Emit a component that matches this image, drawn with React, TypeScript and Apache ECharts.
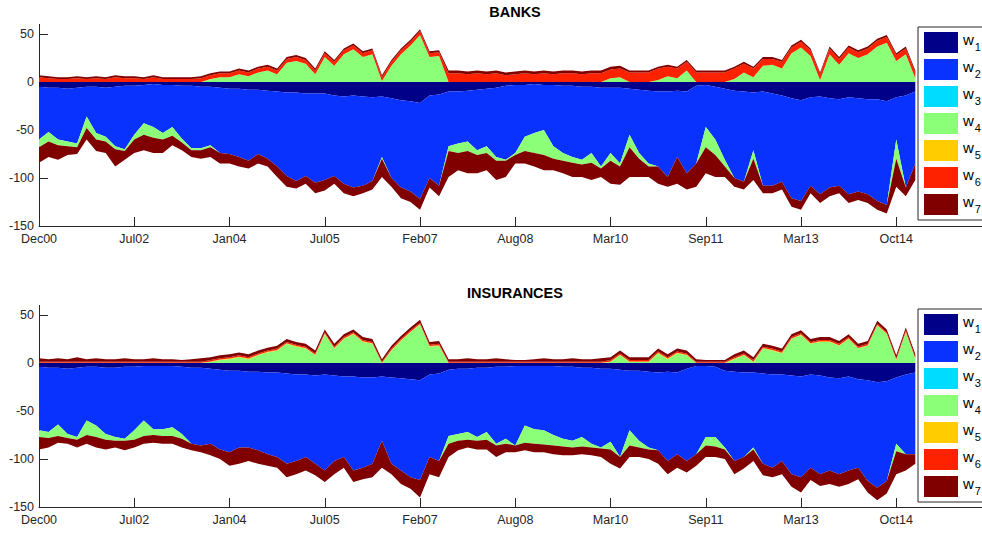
import React, { useEffect, useRef } from "react";
import * as echarts from "echarts";

// ---------- axis labels ----------
const tickLabels = ["Dec00", "Jul02", "Jan04", "Jul05", "Feb07", "Aug08", "Mar10", "Sep11", "Mar13", "Oct14"];
const seriesNames = ["w1", "w2", "w3", "w4", "w5", "w6", "w7"];
const palette = ["#000088", "#0a32ff", "#00dcff", "#8cff78", "#ffcc00", "#ff2200", "#800000"];

// ---------- BANKS (positive side) ----------
const banksPosTop = [
  7, 6, 5, 5, 6, 5, 6, 5, 7, 6,
  6, 5, 7, 5, 5, 5, 5, 6, 9, 11,
  11, 14, 12, 16, 18, 14, 26, 28, 25, 14,
  32, 23, 35, 40, 32, 35, 7, 23, 35, 44,
  55, 32, 33, 12, 12, 11, 12, 11, 12, 10,
  11, 12, 11, 12, 11, 12, 12, 11, 12, 12,
  16, 17, 12, 12, 12, 16, 18, 16, 23, 12,
  12, 12, 12, 16, 21, 16, 26, 26, 23, 38,
  44, 35, 10, 37, 26, 38, 33, 37, 45, 49,
  30, 37, 12,
];
const banksPosGreen = [
  0, 0, 0, 0, 0, 0, 0, 0, 0, 0,
  0, 0, 0, 0, 0, 0, 0, 0, 3, 5,
  5, 8, 6, 10, 12, 8, 20, 22, 19, 8,
  26, 17, 29, 34, 26, 29, 1, 17, 29, 38,
  49, 26, 27, 0, 0, 0, 0, 0, 0, 0,
  0, 0, 0, 0, 0, 0, 0, 0, 0, 0,
  4, 5, 0, 0, 0, 2, 6, 4, 12, 0,
  0, 0, 0, 3, 10, 5, 17, 18, 14, 30,
  36, 27, 2, 29, 18, 30, 25, 29, 37, 41,
  22, 29, 4,
];
const banksPosDark = [
  2, 2, 2, 2, 2, 2, 2, 2, 2, 2,
  2, 2, 2, 2, 2, 2, 2, 2, 2, 2,
  2, 2, 2, 2, 2, 2, 2, 2, 2, 2,
  2, 2, 2, 2, 2, 2, 2, 2, 2, 2,
  2, 2, 2, 3, 3, 3, 3, 3, 3, 3,
  3, 3, 3, 3, 3, 3, 3, 3, 3, 3,
  3, 3, 2, 2, 2, 2, 2, 2, 2, 2,
  2, 2, 2, 2, 2, 2, 2, 2, 2, 2,
  2, 2, 2, 2, 2, 2, 2, 2, 2, 2,
  2, 2, 2,
];

// ---------- BANKS (negative side: edges of each layer) ----------
const banksNavy = [
  -5, -6, -6, -7, -6, -5, -5, -6, -5, -4,
  -4, -3, -2, -3, -3, -4, -4, -5, -5, -6,
  -7, -7, -8, -8, -9, -10, -11, -11, -12, -12,
  -12, -14, -15, -14, -15, -16, -15, -17, -19, -20,
  -22, -14, -13, -10, -10, -9, -8, -7, -6, -4,
  -3, -3, -2, -3, -3, -4, -4, -5, -5, -6,
  -6, -6, -7, -8, -9, -10, -10, -9, -10, -4,
  -3, -5, -7, -9, -10, -11, -10, -12, -14, -17,
  -19, -16, -15, -17, -18, -16, -17, -18, -18, -20,
  -16, -14, -10,
];
const banksBlueEdge = [
  -60, -52, -60, -62, -64, -36, -53, -57, -67, -70,
  -55, -43, -47, -53, -47, -59, -69, -69, -66, -74,
  -75, -78, -82, -75, -80, -88, -98, -103, -98, -105,
  -102, -98, -106, -110, -108, -103, -78, -100, -110, -114,
  -122, -100, -108, -67, -64, -62, -71, -67, -78, -81,
  -74, -57, -53, -50, -67, -74, -78, -81, -74, -88,
  -74, -85, -55, -74, -85, -88, -99, -78, -95, -85,
  -47, -60, -81, -100, -104, -71, -108, -108, -104, -121,
  -124, -108, -117, -110, -108, -117, -114, -117, -124, -128,
  -60, -110, -85,
];
const banksGreenEdge = [
  -68, -62, -66, -67, -68, -48, -60, -62, -70, -72,
  -60, -55, -58, -60, -56, -63, -71, -71, -68, -74,
  -75, -78, -82, -75, -80, -88, -98, -103, -98, -105,
  -102, -98, -106, -110, -108, -103, -80, -100, -110, -114,
  -122, -100, -108, -72, -74, -72, -76, -74, -82, -82,
  -76, -72, -74, -76, -80, -82, -84, -86, -84, -90,
  -82, -88, -68, -80, -88, -88, -99, -78, -95, -85,
  -68, -76, -88, -100, -104, -80, -108, -108, -104, -121,
  -124, -108, -117, -110, -108, -117, -114, -117, -124, -128,
  -80, -110, -85,
];
const banksBottom = [
  -84, -78, -81, -76, -75, -60, -72, -74, -88, -81,
  -74, -71, -74, -74, -66, -71, -78, -80, -78, -85,
  -85, -88, -90, -85, -88, -99, -109, -111, -106, -116,
  -113, -106, -116, -119, -116, -112, -99, -109, -121, -125,
  -133, -110, -119, -99, -92, -95, -95, -92, -102, -99,
  -85, -85, -88, -92, -92, -95, -99, -99, -102, -99,
  -106, -107, -99, -99, -99, -106, -109, -106, -112, -109,
  -95, -99, -99, -109, -112, -102, -116, -116, -112, -130,
  -133, -116, -126, -119, -116, -126, -123, -126, -133, -137,
  -109, -119, -102,
];

// ---------- INSURANCES (positive side) ----------
const insPosTop = [
  5, 4, 5, 4, 6, 4, 5, 4, 4, 5,
  4, 4, 5, 4, 4, 3, 4, 5, 6, 8,
  9, 11, 9, 13, 16, 18, 25, 22, 20, 13,
  35, 20, 30, 35, 27, 25, 4, 18, 28, 37,
  45, 22, 23, 4, 4, 5, 4, 4, 5, 4,
  3, 3, 4, 5, 4, 4, 5, 4, 4, 5,
  6, 13, 6, 6, 6, 15, 9, 15, 13, 4,
  3, 3, 3, 9, 13, 6, 20, 18, 15, 30,
  34, 25, 27, 27, 23, 30, 20, 23, 44, 35,
  8, 37, 9,
];
const insPosGreen = [
  0, 0, 0, 0, 0, 0, 0, 0, 0, 0,
  0, 0, 0, 0, 0, 0, 0, 0, 1, 3,
  4, 6, 4, 8, 11, 13, 20, 17, 15, 8,
  30, 15, 25, 30, 22, 20, 0, 13, 23, 32,
  40, 17, 18, 0, 0, 0, 0, 0, 0, 0,
  0, 0, 0, 0, 0, 0, 0, 0, 0, 0,
  1, 8, 1, 1, 1, 10, 4, 10, 8, 0,
  0, 0, 0, 4, 8, 1, 15, 13, 10, 25,
  29, 20, 22, 22, 18, 25, 15, 18, 39, 30,
  3, 32, 4,
];
const insPosYellow = [
  0.3, 0.3, 0.3, 0.3, 0.3, 0.3, 0.3, 0.3, 0.3, 0.3,
  0.3, 0.3, 0.3, 0.3, 0.3, 0.3, 0.3, 0.3, 0.6, 0.6,
  0.6, 0.6, 0.6, 0.6, 0.6, 0.6, 0.6, 0.6, 0.6, 0.6,
  0.6, 0.6, 0.6, 0.6, 0.6, 0.6, 0.3, 0.6, 0.6, 0.6,
  0.6, 0.6, 0.6, 0.3, 0.3, 0.3, 0.3, 0.3, 0.3, 0.3,
  0.3, 0.3, 0.3, 0.3, 0.3, 0.3, 0.3, 0.3, 0.3, 0.3,
  0.6, 0.6, 0.6, 0.6, 0.6, 0.6, 0.6, 0.6, 0.6, 0.3,
  0.3, 0.3, 0.3, 0.6, 0.6, 0.6, 0.6, 0.6, 0.6, 0.6,
  0.6, 0.6, 0.6, 0.6, 0.6, 0.6, 0.6, 0.6, 0.6, 0.6,
  0.6, 0.6, 0.6,
];
const insPosDark = [
  3.7, 2.7, 3.7, 2.7, 4.7, 2.7, 3.7, 2.7, 2.7, 3.7,
  2.7, 2.7, 3.7, 2.7, 2.7, 1.7, 2.7, 3.7, 3, 3,
  3, 3, 3, 3, 3, 3, 3, 3, 3, 3,
  3, 3, 3, 3, 3, 3, 2.7, 3, 3, 3,
  3, 3, 3, 2.7, 2.7, 3.7, 2.7, 2.7, 3.7, 2.7,
  1.7, 1.7, 2.7, 3.7, 2.7, 2.7, 3.7, 2.7, 2.7, 3.7,
  3, 3, 3, 3, 3, 3, 3, 3, 3, 2.7,
  1.7, 1.7, 1.7, 3, 3, 3, 3, 3, 3, 3,
  3, 3, 3, 3, 3, 3, 3, 3, 3, 3,
  3, 3, 3,
];

// ---------- INSURANCES (negative side: edges of each layer) ----------
const insNavy = [
  -4, -5, -5, -6, -5, -4, -4, -5, -5, -4,
  -4, -3, -3, -3, -3, -4, -5, -5, -6, -7,
  -8, -8, -9, -9, -10, -10, -11, -12, -12, -13,
  -12, -13, -14, -14, -15, -15, -14, -15, -16, -17,
  -18, -12, -11, -7, -6, -6, -5, -5, -4, -4,
  -3, -3, -3, -3, -3, -4, -4, -5, -5, -6,
  -6, -7, -8, -8, -9, -10, -9, -10, -6, -3,
  -3, -4, -8, -9, -10, -10, -11, -12, -12, -13,
  -14, -12, -13, -15, -16, -14, -17, -18, -20, -19,
  -15, -12, -10,
];
const insBlueEdge = [
  -70, -72, -64, -74, -77, -60, -65, -74, -77, -79,
  -70, -60, -69, -69, -67, -74, -84, -86, -84, -90,
  -93, -88, -88, -91, -95, -98, -105, -102, -98, -105,
  -112, -102, -98, -112, -109, -105, -81, -105, -112, -119,
  -122, -98, -102, -76, -74, -72, -77, -72, -84, -79,
  -86, -65, -69, -70, -75, -79, -81, -77, -84, -88,
  -82, -98, -70, -81, -88, -91, -102, -95, -102, -95,
  -77, -77, -88, -102, -98, -88, -105, -109, -102, -116,
  -119, -109, -116, -112, -116, -112, -109, -123, -130, -123,
  -84, -95, -95,
];
const insGreenEdge = [
  -77, -78, -76, -78, -80, -75, -77, -80, -81, -81,
  -80, -76, -75, -76, -76, -79, -84, -86, -84, -90,
  -93, -88, -88, -91, -95, -98, -105, -102, -98, -105,
  -112, -102, -98, -112, -109, -105, -81, -105, -112, -119,
  -122, -98, -102, -84, -81, -80, -81, -80, -86, -84,
  -86, -83, -84, -85, -86, -87, -88, -87, -88, -89,
  -90, -98, -86, -88, -90, -91, -102, -95, -102, -95,
  -86, -87, -90, -102, -98, -90, -105, -109, -102, -116,
  -119, -109, -116, -112, -116, -112, -109, -123, -130, -123,
  -92, -95, -95,
];
const insBottom = [
  -90, -88, -83, -84, -88, -84, -88, -90, -88, -91,
  -88, -84, -83, -84, -84, -88, -91, -93, -96, -100,
  -107, -105, -102, -105, -107, -109, -119, -116, -112, -117,
  -124, -116, -109, -124, -121, -119, -109, -116, -126, -131,
  -140, -116, -119, -98, -91, -88, -90, -90, -98, -93,
  -93, -91, -93, -93, -95, -96, -96, -95, -96, -98,
  -105, -110, -98, -98, -100, -105, -116, -109, -114, -107,
  -98, -98, -100, -116, -110, -102, -117, -119, -116, -129,
  -135, -122, -128, -126, -129, -126, -121, -135, -143, -136,
  -116, -112, -105,
];

const yTicks = [-150, -100, -50, 0, 50];
const FONT = "'Liberation Sans', Arial, Helvetica, sans-serif";
const AXIS_COLOR = "#262626";

function sub(a: number[], b: number[]): number[] {
  return a.map((v, i) => Math.round((v - b[i]) * 10) / 10);
}
function sub3(a: number[], b: number[], c: number[], d?: number[]): number[] {
  return a.map((v, i) => Math.round((v - b[i] - c[i] - (d ? d[i] : 0)) * 10) / 10);
}

function layer(name: string, k: number, stack: string, data: number[]) {
  const color = palette[seriesNames.indexOf(name)];
  return {
    name,
    type: "line",
    xAxisIndex: k,
    yAxisIndex: k,
    stack: stack + k,
    data,
    symbol: "none",
    showSymbol: false,
    silent: true,
    lineStyle: { width: 0, color },
    itemStyle: { color },
    areaStyle: { color, opacity: 1 },
  };
}

export default function App() {
  const ref = useRef<HTMLDivElement>(null);
  useEffect(() => {
    document.body.style.margin = "0";
    if (!ref.current) return;
    const chart = echarts.init(ref.current, undefined, { renderer: "svg" });

    const cats: string[] = [];
    for (let i = 0; i < 100; i++) cats.push(i % 10 === 0 && i / 10 < tickLabels.length ? tickLabels[i / 10] : "");

    const tops = [24.4, 305.4];
    const series: any[] = [];
    // BANKS
    series.push(layer("w4", 0, "p", banksPosGreen));
    series.push(layer("w6", 0, "p", sub3(banksPosTop, banksPosGreen, banksPosDark)));
    series.push(layer("w7", 0, "p", banksPosDark));
    series.push(layer("w1", 0, "n", banksNavy));
    series.push(layer("w2", 0, "n", sub(banksBlueEdge, banksNavy)));
    series.push(layer("w4", 0, "n", sub(banksGreenEdge, banksBlueEdge)));
    series.push(layer("w7", 0, "n", sub(banksBottom, banksGreenEdge)));
    // INSURANCES
    series.push(layer("w4", 1, "p", insPosGreen));
    series.push(layer("w5", 1, "p", insPosYellow));
    series.push(layer("w6", 1, "p", sub3(insPosTop, insPosGreen, insPosYellow, insPosDark)));
    series.push(layer("w7", 1, "p", insPosDark));
    series.push(layer("w1", 1, "n", insNavy));
    series.push(layer("w2", 1, "n", sub(insBlueEdge, insNavy)));
    series.push(layer("w3", 1, "n", []));
    series.push(layer("w4", 1, "n", sub(insGreenEdge, insBlueEdge)));
    series.push(layer("w7", 1, "n", sub(insBottom, insGreenEdge)));

    const option: any = {
      animation: false,
      textStyle: { fontFamily: FONT },
      grid: tops.map((t) => ({ left: 39, top: t, right: 0, height: 201.6, containLabel: false })),
      xAxis: [0, 1].map((k) => ({
        type: "category",
        gridIndex: k,
        data: cats,
        boundaryGap: false,
        axisLine: { onZero: false, lineStyle: { color: AXIS_COLOR, width: 1 } },
        axisTick: { inside: true, length: 9, interval: 9, lineStyle: { color: AXIS_COLOR } },
        axisLabel: { interval: 9, color: AXIS_COLOR, fontSize: 12.5, fontFamily: FONT, margin: 6 },
        splitLine: { show: false },
      })),
      yAxis: [0, 1].map((k) => ({
        type: "value",
        gridIndex: k,
        min: -150,
        max: 60,
        interval: 50,
        axisLine: { show: true, lineStyle: { color: AXIS_COLOR, width: 1 } },
        axisTick: { show: true, inside: true, length: 9, customValues: yTicks, lineStyle: { color: AXIS_COLOR } },
        axisLabel: {
          color: AXIS_COLOR,
          fontSize: 12.5,
          fontFamily: FONT,
          margin: 5,
          customValues: yTicks,
          formatter: (v: number) => (v % 50 === 0 ? String(v) : ""),
        },
        splitLine: { show: false },
      })),
      legend: [0, 1].map((k) => ({
        data: seriesNames,
        orient: "vertical",
        left: 918,
        top: k === 0 ? 27 : 309,
        itemWidth: 34,
        itemHeight: 21,
        itemGap: 6,
        padding: [5, 3, 5, 6],
        borderColor: AXIS_COLOR,
        borderWidth: 1,
        backgroundColor: "#ffffff",
        icon: "rect",
        selectedMode: false,
        formatter: (n: string) => `{a|w}{b|${n.slice(1)}}`,
        textStyle: {
          color: "#000",
          fontFamily: FONT,
          rich: {
            a: { fontSize: 15, fontFamily: FONT, color: "#000", padding: [0, 0, 6, 0] },
            b: { fontSize: 11, fontFamily: FONT, color: "#000", padding: [8, 0, 0, 1] },
          },
        },
      })),
      graphic: [
        {
          type: "text",
          x: 515,
          y: 12,
          style: { text: "BANKS", textAlign: "center", textVerticalAlign: "middle", fontSize: 14.5, fontWeight: "bold", fontFamily: FONT, fill: "#000" },
        },
        {
          type: "text",
          x: 515,
          y: 293,
          style: { text: "INSURANCES", textAlign: "center", textVerticalAlign: "middle", fontSize: 14.5, fontWeight: "bold", fontFamily: FONT, fill: "#000" },
        },
      ],
      series,
    };
    chart.setOption(option);
    return () => chart.dispose();
  }, []);
  return <div ref={ref} style={{ width: 982, height: 536 }} />;
}
